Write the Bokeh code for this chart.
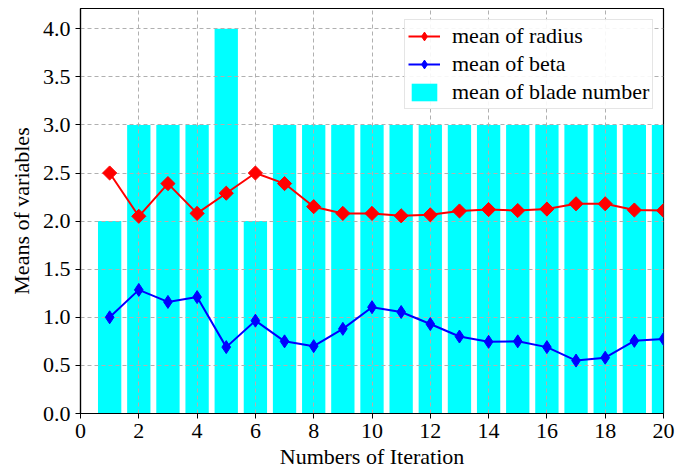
import numpy as np
from bokeh.plotting import figure
from bokeh.models import Range1d, FixedTicker, PrintfTickFormatter, Legend, LegendItem
from bokeh.embed import file_html
from bokeh.resources import INLINE

iterations = list(range(1, 21))
blade_number = [2, 3, 3, 3, 4, 2, 3, 3, 3, 3, 3, 3, 3, 3, 3, 3, 3, 3, 3, 3]
radius = [2.50, 2.05, 2.39, 2.08, 2.29, 2.50, 2.39, 2.15, 2.08, 2.08,
          2.055, 2.065, 2.105, 2.12, 2.11, 2.125, 2.18, 2.18, 2.115, 2.11]
beta = [1.00, 1.285, 1.16, 1.21, 0.69, 0.965, 0.75, 0.70, 0.88, 1.105,
        1.055, 0.93, 0.80, 0.745, 0.75, 0.69, 0.55, 0.58, 0.755, 0.775]
x_ticks = list(range(0, 21, 2))
y_ticks = [0.0, 0.5, 1.0, 1.5, 2.0, 2.5, 3.0, 3.5, 4.0]

FONT = "Liberation Serif"

p = figure(width=691, height=471, output_backend="svg", toolbar_location=None,
           x_range=Range1d(0, 20), y_range=Range1d(0, 4.21),
           min_border_left=80, min_border_right=28, min_border_top=8, min_border_bottom=57)

bars = p.vbar(x=iterations, top=blade_number, width=0.8, bottom=0,
              fill_color="#00FFFF", line_color=None, level="image")
r_line = p.line(iterations, radius, line_color="#FF0000", line_width=2)
r_pts = p.scatter(iterations, radius, marker="square", angle=np.pi / 4, size=10,
                  fill_color="#FF0000", line_color="#FF0000")
b_line = p.line(iterations, beta, line_color="#0000FF", line_width=2)
b_pts = p.scatter(iterations, beta, marker="diamond", size=13,
                  fill_color="#0000FF", line_color="#0000FF")
# legend-only glyph so the red marker shows as a diamond in the legend
r_leg = p.scatter([np.nan], [np.nan], marker="diamond", size=15,
                  fill_color="#FF0000", line_color="#FF0000")

for ax in (p.xaxis[0], p.yaxis[0]):
    ax.major_label_text_font = FONT
    ax.major_label_text_font_size = "22px"
    ax.major_label_text_color = "black"
    ax.axis_label_text_font = FONT
    ax.axis_label_text_font_size = "22px"
    ax.axis_label_text_font_style = "normal"
    ax.axis_label_text_color = "black"
    ax.axis_line_color = "black"
    ax.axis_line_width = 1.2
    ax.major_tick_line_color = "black"
    ax.major_tick_in = 0
    ax.major_tick_out = 5
    ax.minor_tick_line_color = None
    ax.major_label_standoff = 5

p.xaxis[0].ticker = FixedTicker(ticks=x_ticks)
p.yaxis[0].ticker = FixedTicker(ticks=y_ticks)
p.yaxis[0].formatter = PrintfTickFormatter(format="%.1f")
p.xaxis[0].axis_label = "Numbers of Iteration"
p.yaxis[0].axis_label = "Means of variables"
p.xaxis[0].axis_label_standoff = 3
p.yaxis[0].axis_label_standoff = 6

for g in (p.xgrid[0], p.ygrid[0]):
    g.grid_line_color = "#b0b0b0"
    g.grid_line_dash = "4 3"
    g.grid_line_width = 1

p.xgrid[0].ticker = FixedTicker(ticks=x_ticks)
p.ygrid[0].ticker = FixedTicker(ticks=y_ticks)

p.outline_line_color = "black"
p.outline_line_width = 1.2
p.background_fill_color = "white"
p.border_fill_color = "white"

legend = Legend(items=[
    LegendItem(label="mean of radius", renderers=[r_line, r_leg]),
    LegendItem(label="mean of beta", renderers=[b_line, b_pts]),
    LegendItem(label="mean of blade number", renderers=[bars]),
], location=(324, 304))
legend.label_text_font = FONT
legend.label_text_font_size = "22px"
legend.label_text_color = "black"
legend.label_standoff = 12
legend.glyph_width = 32
legend.glyph_height = 22
legend.spacing = 2
legend.padding = 3
legend.margin = 0
legend.border_line_color = "#cccccc"
legend.border_line_width = 1
legend.background_fill_alpha = 0.9
p.add_layout(legend)

open("out.html", "w").write(file_html(p, INLINE))
